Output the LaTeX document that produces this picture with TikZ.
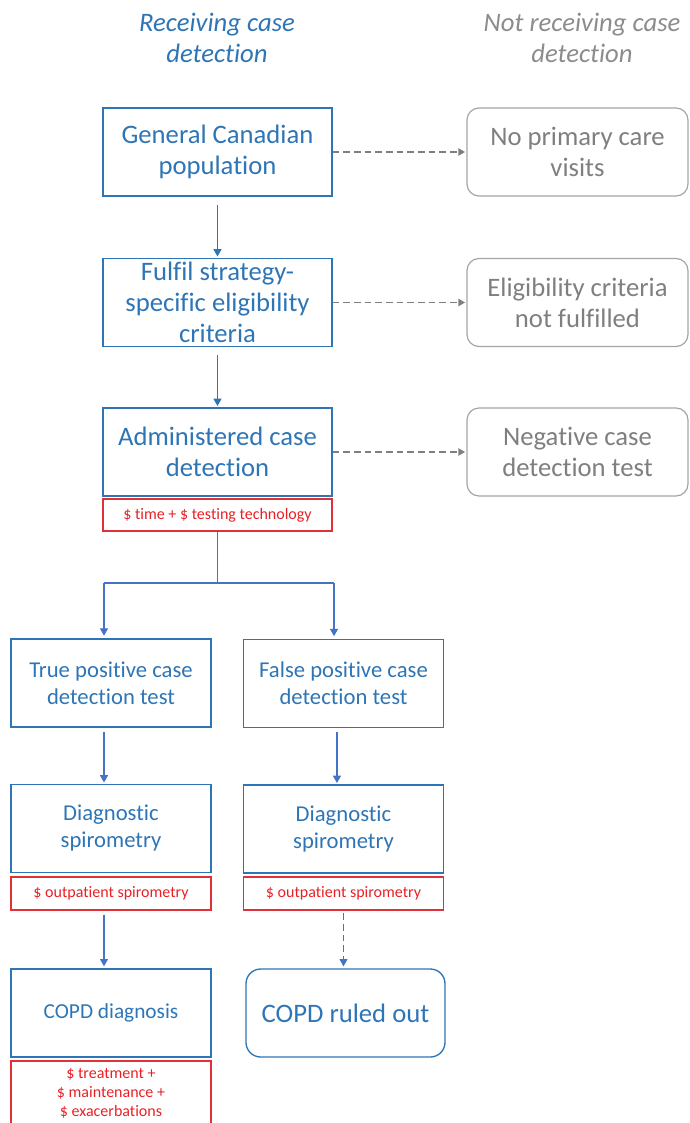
\documentclass[tikz,border=0pt]{standalone}
\usepackage{fontspec}
\setmainfont[Ligatures=NoCommon]{Carlito}
\usetikzlibrary{arrows.meta}
\definecolor{cblue}{RGB}{46,117,182}
\definecolor{ablue}{RGB}{68,114,196}
\definecolor{cred}{RGB}{232,32,38}
\definecolor{credB}{RGB}{224,48,56}
\definecolor{cgrayT}{RGB}{127,127,127}
\definecolor{cgrayB}{RGB}{165,165,165}
\definecolor{cgrayH}{RGB}{140,140,140}
\begin{document}
\begin{tikzpicture}[x=0.75pt,y=-0.75pt,
  hdr/.style={align=center, inner sep=0pt, font=\fontsize{20}{23.25}\selectfont\itshape},
  mainbox/.style={draw=cblue, line width=1pt, text=cblue, minimum width=171.75pt, minimum height=66pt, inner sep=0pt, align=center, font=\fontsize{20}{23.25}\selectfont},
  graybox/.style={draw=cgrayB, line width=0.9pt, rounded corners=9pt, text=cgrayT, minimum width=165.75pt, minimum height=66pt, inner sep=0pt, align=center, font=\fontsize{20}{23.25}\selectfont},
  subbox/.style={draw=cblue, line width=1pt, text=cblue, minimum width=150pt, minimum height=66pt, inner sep=0pt, align=center, font=\fontsize{17}{20.25}\selectfont},
  costbox/.style={draw=credB, line width=0.9pt, text=cred, inner sep=0pt, align=center, font=\fontsize{12}{14.25}\selectfont},
  arrT/.style={draw=cblue, line width=0.9pt, -{Triangle[length=5.5pt,width=6pt]}},
  arrA/.style={draw=ablue, line width=0.9pt, -{Triangle[length=5.5pt,width=6pt]}},
  lineA/.style={draw=ablue, line width=0.9pt},
  arrG/.style={draw=cgrayT, line width=0.9pt, dash pattern=on 5pt off 3pt, -{Triangle[length=5pt,width=5.5pt]}}
]
\useasboundingbox (0,0) rectangle (689,1123);

% headings
\node[hdr, text=cblue] (h1) at (217,38) {Receiving case\\detection};
\node[hdr, text=cgrayH] (h2) at (582,38) {Not receiving case\\detection};

% main column
\node[mainbox] (b1) at (217.5,152) {General Canadian\\population};
\node[graybox] (g1) at (577.5,152) {No primary care\\visits};
\node[mainbox] (b2) at (217.5,302.5) {Fulfil strategy-\\specific eligibility\\criteria};
\node[graybox] (g2) at (577.5,302.5) {Eligibility criteria\\not fulfilled};
\node[mainbox] (b3) at (217.5,452) {Administered case\\detection};
\node[graybox] (g3) at (577.5,452) {Negative case\\detection test};
\node[costbox, minimum width=171.75pt, minimum height=24pt] (c1) at (217.5,515) {\$ time + \$ testing technology};

% branches
\node[subbox] (tp) at (111,683) {True positive case\\detection test};
\node[subbox] (fp) at (343.5,683.5) {False positive case\\detection test};
\node[subbox] (d1) at (111,828.5) {Diagnostic\\spirometry};
\node[subbox] (d2) at (343.5,829) {Diagnostic\\spirometry};
\node[costbox, minimum width=150pt, minimum height=24.75pt] (c2) at (111,893.5) {\$ outpatient spirometry};
\node[costbox, minimum width=150pt, minimum height=24.75pt] (c3) at (343.5,893.5) {\$ outpatient spirometry};
\node[subbox, font=\fontsize{16}{19}\selectfont] (cd) at (111,1013) {COPD diagnosis};
\node[subbox, rounded corners=11pt, minimum width=149.25pt, font=\fontsize{20}{23.25}\selectfont] (ro) at (345.5,1013) {COPD ruled out};
\node[costbox, minimum width=150pt, minimum height=48.75pt] (c4) at (111,1093.5) {\$ treatment +\\\$ maintenance +\\\$ exacerbations};

% connectors
\draw[arrT, shorten <=6pt, shorten >=1pt] (b1) -- (b2);
\draw[arrT, shorten <=6pt, shorten >=1pt] (b2) -- (b3);
\draw[arrG, shorten >=1pt] (b1) -- (g1);
\draw[arrG, shorten >=1pt] (b2) -- (g2);
\draw[arrG, shorten >=1pt] (b3) -- (g3);

\coordinate (fL) at (104,583);
\coordinate (fR) at (334,583);
\draw[lineA] (c1.south) -- (c1.south |- fL);
\draw[lineA] (fL) -- (fR);
\draw[arrA, shorten >=2pt] (fL) -- (fL |- tp.north);
\draw[arrA, shorten >=2pt] (fR) -- (fR |- fp.north);

\draw[arrA, shorten <=3pt, shorten >=1pt] ([xshift=-5.25pt]tp.south) -- ([xshift=-5.25pt]d1.north);
\draw[arrA, shorten <=3pt, shorten >=1pt] ([xshift=-4.9pt]fp.south) -- ([xshift=-4.9pt]d2.north);
\draw[arrA, shorten <=3pt, shorten >=1.5pt] ([xshift=-5.25pt]c2.south) -- ([xshift=-5.25pt]cd.north);
\draw[arrA, dash pattern=on 5pt off 3pt, shorten <=2pt, shorten >=1.5pt] (c3.south) -- (c3.south |- ro.north);
\end{tikzpicture}
\end{document}
